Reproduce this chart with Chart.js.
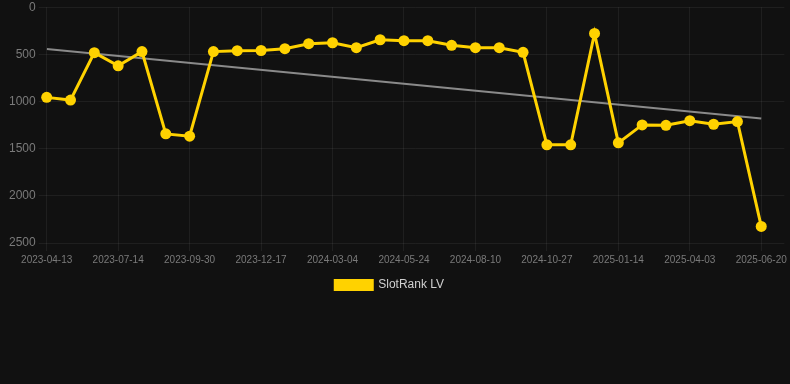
<!DOCTYPE html>
<html>
<head>
<meta charset="utf-8">
<script src="https://cdn.jsdelivr.net/npm/chart.js@4.4.1/dist/chart.umd.min.js"></script>
<style>
  html, body { margin: 0; padding: 0; background: #111111; }
  #wrap { position: relative; width: 790px; height: 301px; }
</style>
</head>
<body>
<div id="wrap"><canvas id="chart"></canvas></div>
<script>
// dates of each rank sample (only every 3rd one shows on the axis)
const dates = [
  "2023-04-13", "2023-05-14", "2023-06-13", "2023-07-14", "2023-08-09", "2023-09-04",
  "2023-09-30", "2023-10-26", "2023-11-21", "2023-12-17", "2024-01-12", "2024-02-07",
  "2024-03-04", "2024-03-31", "2024-04-27", "2024-05-24", "2024-06-19", "2024-07-15",
  "2024-08-10", "2024-09-05", "2024-10-01", "2024-10-27", "2024-11-22", "2024-12-19",
  "2025-01-14", "2025-02-09", "2025-03-08", "2025-04-03", "2025-04-29", "2025-05-25",
  "2025-06-20"
];

// SlotRank LV position (lower = better, axis is reversed)
const rankLV = [
  956, 985, 482, 622, 471, 1343, 1368, 471, 461, 459, 440,
  387, 377, 429, 345, 355, 355, 404, 429, 429, 478,
  1459, 1459, 278, 1438, 1248, 1252, 1203, 1241, 1213, 2324
];

// grey trend line, first and last sample
const trendIdx = [0, 30];
const trendRank = [443, 1181];

const yTicks = [0, 500, 1000, 1500, 2000, 2500];

const YELLOW = "#FFD200";
const GRID = "rgba(255,255,255,0.06)";
const TICK = "#7a7a7a";
const FONT = "Liberation Sans, Arial, sans-serif";

const ctx = document.getElementById("chart").getContext("2d");
new Chart(ctx, {
  type: "line",
  data: {
    datasets: [
      {
        label: "SlotRank LV",
        data: rankLV.map((v, i) => ({ x: i, y: v })),
        borderColor: YELLOW,
        backgroundColor: YELLOW,
        borderWidth: 3,
        pointRadius: 5.5,
        pointBackgroundColor: YELLOW,
        pointBorderWidth: 0,
        tension: 0,
        clip: false,
        order: 1
      },
      {
        label: "trend",
        data: trendIdx.map((x, i) => ({ x: x, y: trendRank[i] })),
        borderColor: "#8a8a8a",
        borderWidth: 2,
        pointRadius: 0,
        tension: 0,
        order: 2
      }
    ]
  },
  options: {
    responsive: true,
    maintainAspectRatio: false,
    animation: false,
    layout: { padding: { left: 6 } },
    plugins: {
      legend: {
        position: "bottom",
        labels: {
          color: "#d0d0d0",
          boxWidth: 37,
          boxHeight: 9,
          font: { family: FONT, size: 12 },
          filter: (item) => item.datasetIndex === 0,
          generateLabels: (chart) => {
            // a little trailing room so the item sits where the original one did
            const items = Chart.defaults.plugins.legend.labels.generateLabels(chart);
            items.forEach(it => { it.text = it.text + "     "; });
            return items;
          }
        }
      },
      tooltip: { enabled: false }
    },
    scales: {
      x: {
        type: "linear",
        min: 0,
        max: 30.97,
        grid: { color: GRID },
        border: { display: false },
        ticks: {
          stepSize: 3,
          includeBounds: false,
          maxRotation: 0,
          color: TICK,
          font: { family: FONT, size: 10 },
          callback: (v) => (Number.isInteger(v) && dates[v]) ? dates[v] : ""
        }
      },
      y: {
        reverse: true,
        min: yTicks[0],
        max: yTicks[yTicks.length - 1],
        grid: { color: GRID },
        border: { display: false },
        afterBuildTicks: (axis) => { axis.ticks = yTicks.map(v => ({ value: v })); },
        ticks: {
          color: TICK,
          font: { family: FONT, size: 12, lineHeight: 0.7 },
          callback: (v) => String(v)
        }
      }
    }
  }
});
</script>
</body>
</html>
